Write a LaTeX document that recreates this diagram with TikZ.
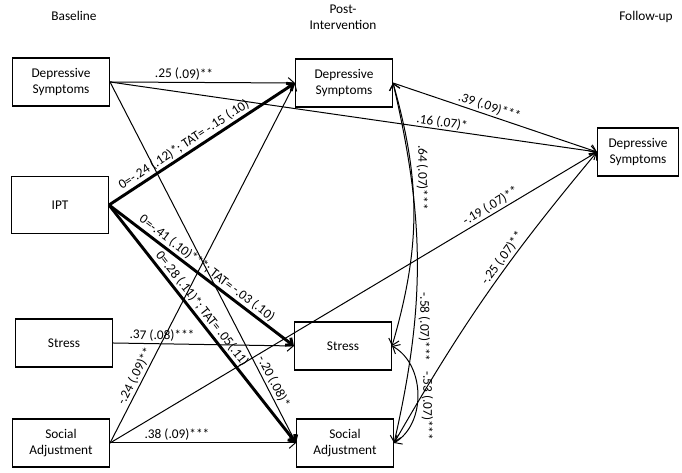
\documentclass[tikz,border=0pt]{standalone}
\usepackage{fontspec}
\setmainfont{Carlito}
\usepackage{tikz}
\usetikzlibrary{arrows.meta}
\tikzstyle{var} = [rectangle, minimum width=72.75pt, minimum height=36pt,
    text centered, align=center, draw=black, line width=0.8pt, fill=white,
    font=\fontsize{10}{12}\selectfont]
\tikzstyle{head} = [align=center, font=\fontsize{10}{12}\selectfont]
\tikzstyle{arrow} = [line width=0.75pt,->,>={Straight Barb[length=4.5pt,width=8pt]}]
\tikzstyle{iptarrow} = [line width=2.2pt,->,>={Straight Barb[length=4pt,width=7pt]}]
\tikzstyle{corr} = [line width=0.75pt,<->,>={Straight Barb[length=4.5pt,width=8pt]}]
\tikzstyle{coef} = [sloped, above, inner sep=1.5pt, font=\fontsize{10}{12}\selectfont]
\tikzstyle{ccoef} = [rotate=-90, anchor=south, inner sep=3pt, font=\fontsize{10}{12}\selectfont]

\begin{document}
\begin{tikzpicture}[x=0.75pt, y=0.75pt]
    \useasboundingbox (0,0) rectangle (682,473);
    % time points
    \node (hbase) [head] at (74,457) {Baseline};
    \node (hpost) [head] at (343,456) {Post-\\Intervention};
    \node (hfol) [head] at (646,456) {Follow-up};
    % baseline
    \node (bds) [var] at (61,391) {Depressive\\Symptoms};
    \node (ipt) [var, minimum height=43pt] at (60,268) {IPT};
    \node (bst) [var] at (64,130) {Stress};
    \node (bsa) [var] at (61,30) {Social\\Adjustment};
    % post-intervention
    \node (pds) [var] at (344,390) {Depressive\\Symptoms};
    \node (pst) [var] at (343,127) {Stress};
    \node (psa) [var] at (345,30) {Social\\Adjustment};
    % follow-up
    \node (fds) [var, minimum width=60.75pt] at (638,321) {Depressive\\Symptoms};

    \draw [arrow] (bds.east) -- node[coef, pos=0.4] {.25 (.09)**} (pds.west);
    \draw [arrow] (bds.east) -- node[coef, pos=0.68, inner sep=0.5pt] {.16 (.07)*} (fds.west);
    \draw [arrow] (bds.east) -- node[coef, pos=0.84] {-.20 (.08)*} (psa.west);
    \draw [iptarrow] (ipt.east) -- node[coef, pos=0.43] {0=-.24 (.12)*; TAT= -.15 (.10)} (pds.west);
    \draw [iptarrow] (ipt.east) -- node[coef, pos=0.5] {0=-.41 (.10)***; TAT= -.03 (.10)} (pst.west);
    \draw [iptarrow] (ipt.east) -- node[coef, pos=0.46] {0=.28 (.11)*; TAT= .05(.11)} (psa.west);
    \draw [arrow] (bst.east) -- node[coef, pos=0.27] {.37 (.08)***} (pst.west);
    \draw [arrow] (bsa.east) -- node[coef, pos=0.36] {.38 (.09)***} (psa.west);
    \draw [arrow] (bsa.east) -- node[coef, pos=0.175] {-.24 (.09)**} (pds.west);
    \draw [arrow] (bsa.east) -- node[coef, pos=0.79] {-.19 (.07)**} (fds.west);
    \draw [arrow] (pds.east) -- node[coef, pos=0.46] {.39 (.09)***} (fds.west);
    \draw [arrow] (psa.east) to[bend left=5] node[coef, pos=0.61] {-.25 (.07)**} (fds.west);
    % residual correlations
    \draw [corr] (pds.east) to[bend left=16] node[ccoef, pos=0.35] {.64 (.07)***} (pst.east);
    \draw [corr] (pds.east) to[bend left=13] node[ccoef, pos=0.69] {-.58 (.07)***} (psa.east);
    \draw [corr] (pst.east) to[bend left=60] node[ccoef, pos=0.6] {-.53 (.07)***} (psa.east);
\end{tikzpicture}
\end{document}
